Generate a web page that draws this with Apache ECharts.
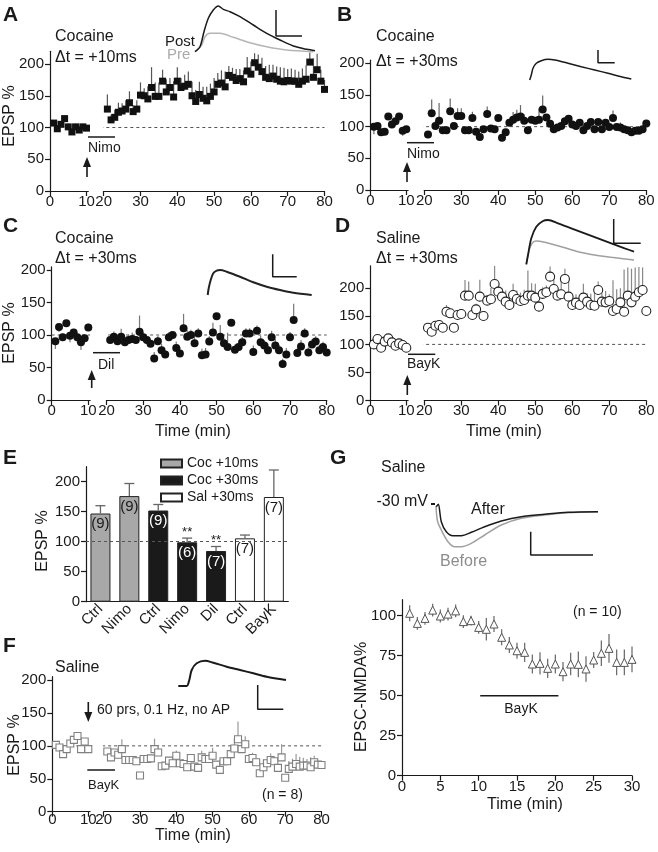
<!DOCTYPE html>
<html><head><meta charset="utf-8">
<script src="https://cdn.jsdelivr.net/npm/echarts@6/dist/echarts.min.js"></script>
<style>html,body{margin:0;padding:0;background:#fff}#c{width:658px;height:852px}</style>
</head><body><div id="c"></div>
<script>
// ---------- DATA ----------
const minutesPre = [1,2,3,4,5,6,7,8,9,10];
const minutesPost = [21,22,23,24,25,26,27,28,29,30,31,32,33,34,35,36,37,38,39,40,41,42,43,44,45,46,47,48,49,50,51,52,53,54,55,56,57,58,59,60,61,62,63,64,65,66,67,68,69,70,71,72,73,74,75,76,77,78,79,80];
const xTicksPre = [0,10];
const yTicksEPSP = [0,50,100,150,200];

// A: Cocaine, dt=+10ms, Nimo
const A_pre = [107,98,105,114,101,93,101,96,101,99];
const A_preErr = [5,6,5,5,5,6,5,6,5,5];
const A_post = [129,112,116,124,126,129,139,125,129,151,150,145,163,149,149,173,156,163,148,173,163,165,168,150,141,152,146,142,149,156,168,170,164,182,179,174,177,172,189,184,202,195,188,179,177,181,176,173,172,174,173,173,168,173,176,203,179,191,173,160];
const A_postErr = [23,8,12,15,12,14,18,10,14,20,12,20,32,22,22,18,20,15,25,22,15,18,20,22,18,20,18,22,20,22,18,20,24,15,15,18,15,18,22,20,15,20,22,18,22,18,20,22,22,18,20,18,20,20,22,15,30,25,18,15];

// B: Cocaine, dt=+30ms, Nimo
const B_pre = [100,101,91,92,116,103.5,108.5,116,93.5,96];
const B_preErr = [-12,5,4,3,5,4,5,5,-8,5];
const B_post = [87.5,121,101,109.5,94.5,94.5,124.5,101,117,117,94.5,94.5,113.5,92,83.5,96,120,97,96,113.5,82.5,91,106,111,114.5,116,109.5,94.5,111,109.5,111,127,114.5,104.5,96,98.5,101,108.5,112.5,103.5,101,106,94.5,101,107.5,96,107.5,96,106,99.5,113.5,99.5,98.5,96,94.5,91,93.5,93.5,96,105];
const B_postErr = [3,22,8,28,5,5,20,5,12,12,3,3,10,4,3,5,12,4,3,5,3,3,5,12,12,18,10,3,5,5,18,22,5,3,3,3,5,5,5,3,3,3,3,3,5,3,5,3,3,5,12,3,8,3,3,3,3,3,3,3];

// C: Cocaine, dt=+30ms, Dil
const C_pre = [90.5,112.5,96.5,118,99,104,96.5,89,95,111.5];
const C_preErr = [-12,-8,6,-5,-10,-5,-8,-12,6,6];
const C_post = [92.5,97.5,90.5,97.5,89,92.5,94,92.5,105,96.5,92.5,86.5,64,90.5,76.5,70,96.5,100,80,71.5,110.5,97.5,100,87.5,102.5,69,70,90,104,129,97.5,87.5,81.5,119,77.5,81.5,89,102.5,102.5,74,106.5,89,84,76.5,96.5,84,76.5,55.5,70,96.5,123,72.5,82.5,102.5,73,85.5,90,76.5,81.5,73];
const C_postErr = [6,8,10,12,5,8,10,5,25,8,5,5,10,8,10,5,8,6,10,10,22,10,8,12,8,10,10,8,15,5,18,8,22,5,8,10,8,8,8,10,8,10,8,10,10,10,8,8,10,8,25,8,10,8,8,8,8,8,8,5];

// D: Saline, dt=+30ms, BayK
const D_pre = [100,109.5,94,105,110.7,103.6,97.6,101.8,98.8,94];
const D_preErr = [3,4,3,3,4,3,3,3,3,3];
const D_post = [129.8,122.6,133.3,134.5,129.8,158.3,155.4,129.8,152.4,154.2,186.9,186.9,152.4,162.5,185.1,150.6,178,180.4,207.7,194,185.1,176.2,170.2,188.1,181,177.4,179.2,186.9,186.9,183.3,167.3,190,192.9,220.8,198.8,186.9,189.3,216.7,185.1,170.2,174.4,170.2,183.3,176.2,170.2,169,197,176.2,175,177.4,159.5,163.1,175,158.3,186.9,175,185.1,192.9,197,159.5];
const D_postErr = [5,5,5,5,5,12,5,8,5,8,28,25,8,10,30,8,10,20,32,12,15,20,12,20,15,15,18,45,22,25,10,12,12,18,25,12,30,18,30,10,15,12,25,15,20,35,15,15,20,12,55,35,25,75,50,60,52,45,40,8];

// E: summary bars
const E_categories = ['Ctrl','Nimo','Ctrl','Nimo','Dil','Ctrl','BayK'];
const E_groups = ['Coc +10ms','Coc +30ms','Sal +30ms'];
const E_groupOf = [0,0,1,1,1,2,2];
const E_values = [147,176,152,99,84.5,105.6,174.5];
const E_err = [13,21,10,7,7.5,5.5,45];
const E_n = [9,9,9,6,7,7,7];
const E_sig = ['','','','**','**','',''];

// F: Saline, 60 prs no AP, BayK
const F_pre = [101.5,97.5,87.5,95,103.5,109,115,95,106.5,95];
const F_preErr = [3,3,3,3,3,3,3,3,3,3];
const F_post = [91.5,82.5,90,86.5,95,78.5,78.5,78.5,76.5,55,80,80,81,95,90,69,70,77.5,73.5,85,73.5,72.5,67.5,81.5,68.5,66.5,82.5,80,80,85,71.5,63.5,76.5,76.5,87.5,96,110,95,102.5,80,81.5,75,58.5,67.5,73.5,78.5,76.5,66.5,82.5,51.5,65,68.5,72.5,68.5,70,70,67.5,75,71.5,71];
const F_postErr = [4,3,4,3,15,3,3,4,3,3,3,3,3,16,8,3,4,4,4,8,3,3,3,4,3,3,10,4,8,12,3,3,4,4,12,15,27,15,12,3,8,4,3,12,4,10,4,3,20,3,12,12,15,15,12,10,15,10,4,4];

// G: EPSC-NMDA
const G_minutes = [1,2,3,4,5,6,7,8,9,10,11,12,13,14,15,16,17,18,19,20,21,22,23,24,25,26,27,28,29,30];
const G_values = [101.5,95.2,98.3,103.5,99.8,101,103,96.3,96.9,92.7,91.5,94.8,86.5,81.7,78.1,77.1,69.8,70.2,67.1,69.8,65,69.8,69.6,66.7,72.3,76.5,79.6,70.8,70.8,72.7];
const G_err = [5,4,4,4,4,4,4,4,3,4,7,5,5,5,5,6,6,7,6,6,6,7,8,8,5,8,9,8,8,8];
const G_bayK = [10.2,20.4];
const G_yTicks = [0,25,50,75,100];

// Example traces ([time, amplitude] in inset units)
const traceA_post = [[5,3.3],[10,8.3],[14,23.3],[18.3,36.7],[23.3,45],[28.3,49],[33.3,45.7],[40,43.3],[50,38.3],[63.3,30],[76.7,21.7],[90,15],[103.3,9],[116.7,5.7],[125,4.3]];
const traceA_pre = [[5,3.3],[11.7,10],[15,18.3],[20,21.7],[30,21.7],[43.3,17.7],[60,12.3],[76.7,8.3],[96.7,5],[123.3,3.3]];
const traceB = [[4.7,5],[6.3,10],[8,16.7],[11.3,21.7],[16.3,24.3],[23,25.7],[29.7,25],[43,21.7],[56.3,18.3],[69.7,15],[83,11.7],[96.3,8.3],[106.3,6]];
const traceC = [[7.7,5],[8.7,11.7],[10.7,20],[13.3,26.7],[16.7,29.3],[20,30],[26.7,28.3],[40,23.3],[53.3,17.7],[66.7,13.3],[80,10],[93.3,7.3],[111.7,5]];
const traceD_post = [[6.3,5.7],[8,15],[11.3,31.7],[16.3,43.3],[23,49],[28,50],[38,46.7],[51.3,41.7],[64.7,36.7],[78,31.7],[91.3,26.7],[104.7,21.7],[114,18.3]];
const traceD_pre = [[6.3,5.7],[9.7,21.7],[13,27.7],[16.3,29],[24.7,27.7],[41.3,23.3],[58,18.3],[74.7,15],[91.3,12.7],[114,10]];
const traceF = [[8.3,29],[16.7,29],[19.3,35],[21.7,45],[26.7,51.7],[35,54.3],[43.3,52.3],[56.7,48.3],[70,45],[83.3,41.7],[96.7,38.3],[116,35]];
const traceG_after = [[6.3,53.3],[8.3,55.7],[11.3,38.3],[16.3,28.3],[23,24.3],[31.3,24.3],[41.3,27.7],[54.7,33.3],[71.3,39],[91.3,43.3],[114.7,45.7],[138,47.7],[168,48.3]];
const traceG_before = [[6,54],[7.5,39],[11.3,30],[18,18.3],[24.7,13.3],[31.3,13.3],[41.3,16.7],[54.7,25],[71.3,35],[91.3,41.7],[114.7,45],[138,47.3],[168,48.3]];
const holdG = [[1,56],[5,56]];
// scale bars
const scaleA = [[86,45],[86,19],[112,19]];
const scaleB = [[73,35],[73,22.3],[89.7,22.3]];
const scaleC = [[72.7,45.7],[72.7,23.3],[96.7,23.3]];
const scaleD = [[93.7,51],[93.7,26.7],[120.7,26.7]];
const scaleF = [[87.7,30],[87.7,5.7],[113.3,5.7]];
const scaleG = [[100.7,28.3],[100.7,5],[163,5]];

// ---------- BUILD ----------
const FONT = 'Liberation Sans, Arial, Helvetica, sans-serif';
const INK = '#1a1a1a';
const grids = [], xAxes = [], yAxes = [], series = [], graphics = [];

function addGrid(left, top, width, height) {
  grids.push({left, top, width, height, containLabel: false, outerBoundsMode: 'none', show: false});
  return grids.length - 1;
}
function valAxis(gi, min, max, o) {
  o = o || {};
  const ax = {
    type: 'value', gridIndex: gi, min, max, show: o.show !== false,
    axisLine: {show: true, onZero: false, lineStyle: {color: INK, width: 1.2}},
    axisTick: {show: true, inside: false, length: 5, lineStyle: {color: INK, width: 1.2}},
    axisLabel: {show: true, color: INK, fontSize: 15, fontFamily: FONT, margin: o.margin == null ? 4 : o.margin},
    splitLine: {show: false}
  };
  if (o.interval) ax.interval = o.interval;
  if (o.ticks) { ax.axisTick.customValues = o.ticks; ax.axisLabel.customValues = o.ticks; }
  return ax;
}
const zip = (xs, ys) => xs.map((x, i) => [x, ys[i]]);
const zip3 = (xs, ys, es) => xs.map((x, i) => [x, ys[i], es[i]]);

function errUp(color) {
  return function (params, api) {
    const t = api.value(0), v = api.value(1), e = api.value(2);
    const a = api.coord([t, v]), b = api.coord([t, v + e]);
    return {type: 'line', shape: {x1: a[0], y1: a[1], x2: b[0], y2: b[1]}, style: {stroke: color, lineWidth: 1.2}};
  };
}
function errBoth(color) {
  return function (params, api) {
    const t = api.value(0), v = api.value(1), e = api.value(2);
    const a = api.coord([t, v - e]), b = api.coord([t, v + e]);
    return {type: 'line', shape: {x1: a[0], y1: a[1], x2: b[0], y2: b[1]}, style: {stroke: color, lineWidth: 1.2}};
  };
}

function timePanel(p) {
  const lw = 10.5 * p.ppmL, rw = 60 * p.ppm;
  const top = p.y0 - p.ymax * p.ppu, h = p.y0 - top;
  const gL = addGrid(p.xL, top, lw, h), gR = addGrid(p.xR, top, rw, h);
  const xm = p.xMargin == null ? 3 : p.xMargin;
  xAxes.push(valAxis(gL, 0, 10.5, {ticks: xTicksPre, margin: xm})); const xl = xAxes.length - 1;
  yAxes.push(valAxis(gL, 0, p.ymax, {ticks: yTicksEPSP, margin: 6})); const yl = yAxes.length - 1;
  xAxes.push(valAxis(gR, 20, 80, {interval: 10, margin: xm})); const xr = xAxes.length - 1;
  yAxes.push(valAxis(gR, 0, p.ymax, {show: false})); const yr = yAxes.length - 1;
  const dash = {type: [3, 3], color: '#555', width: 1};
  const gapMin = (p.xR - (p.xL + lw)) / p.ppm;
  series.push({type: 'line', xAxisIndex: xr, yAxisIndex: yr, data: [[20 - gapMin, 100], [80, 100]], clip: false, symbol: 'none', lineStyle: dash, silent: true, z: 1});
  if (p.dashFromZero) series.push({type: 'line', xAxisIndex: xl, yAxisIndex: yl, data: [[0, 100], [10.5, 100]], clip: false, symbol: 'none', lineStyle: dash, silent: true, z: 1});
  [[xl, yl, p.pre, p.preErr, minutesPre], [xr, yr, p.post, p.postErr, minutesPost]].forEach(([xi, yi, vals, errs, ts]) => {
    series.push({type: 'custom', coordinateSystem: 'cartesian2d', xAxisIndex: xi, yAxisIndex: yi, data: zip3(ts, vals, errs), encode: {x: 0, y: 1}, renderItem: errUp(p.errColor), silent: true, z: 2});
    series.push({type: 'scatter', xAxisIndex: xi, yAxisIndex: yi, data: zip(ts, vals), symbol: p.symbol, symbolSize: p.size, itemStyle: Object.assign({opacity: 1}, p.itemStyle), silent: true, z: 3});
  });
}

function inset(left, top, w, h, lines) {
  const g = addGrid(left, top, w, h);
  xAxes.push({type: 'value', gridIndex: g, min: 0, max: w, show: false});
  yAxes.push({type: 'value', gridIndex: g, min: 0, max: h, show: false});
  const xi = xAxes.length - 1, yi = yAxes.length - 1;
  lines.forEach(l => series.push({type: 'line', xAxisIndex: xi, yAxisIndex: yi, data: l.data, symbol: 'none', smooth: l.smooth ? 0.3 : false, clip: false, silent: true, lineStyle: {color: l.color || INK, width: l.width || 1.5}, z: 4}));
}

// Panels A-D, F
timePanel({xL: 50, xR: 103.7, ppmL: 3.65, ppm: 3.68, y0: 191, ppu: 0.635, ymax: 220, pre: A_pre, preErr: A_preErr, post: A_post, postErr: A_postErr,
  symbol: 'rect', size: 7, itemStyle: {color: '#111'}, errColor: '#555'});
timePanel({xL: 370.3, xR: 424.3, ppmL: 3.6, ppm: 3.7, y0: 190, ppu: 0.6335, ymax: 205, pre: B_pre, preErr: B_preErr, post: B_post, postErr: B_postErr,
  symbol: 'circle', size: 8, itemStyle: {color: '#111'}, errColor: '#666'});
timePanel({xL: 51.7, xR: 106.5, ppmL: 3.66, ppm: 3.67, y0: 400, ppu: 0.65, ymax: 205, pre: C_pre, preErr: C_preErr, post: C_post, postErr: C_postErr, dashFromZero: true,
  symbol: 'circle', size: 8, itemStyle: {color: '#111'}, errColor: '#777'});
timePanel({xL: 370.3, xR: 424.3, ppmL: 3.6, ppm: 3.7, y0: 400.5, ppu: 0.561, ymax: 240, pre: D_pre, preErr: D_preErr, post: D_post, postErr: D_postErr,
  symbol: 'circle', size: 9, itemStyle: {color: '#fff', borderColor: '#222', borderWidth: 1.1}, errColor: '#888'});
timePanel({xL: 52.3, xR: 103.7, ppmL: 3.6, ppm: 3.63, y0: 811.7, ppu: 0.6585, ymax: 205, pre: F_pre, preErr: F_preErr, post: F_post, postErr: F_postErr, dashFromZero: true, xMargin: 1,
  symbol: 'rect', size: 7, itemStyle: {color: '#fff', borderColor: '#808080', borderWidth: 1.1}, errColor: '#999'});

// Insets
inset(190, 5, 130, 50, [{data: traceA_pre, color: '#b5b5b5', smooth: true}, {data: traceA_post, color: INK, smooth: true}, {data: scaleA, width: 1.5}]);
inset(525, 45, 120, 40, [{data: traceB, color: INK, smooth: true}, {data: scaleB}]);
inset(200, 250, 120, 50, [{data: traceC, color: '#222', smooth: true, width: 2}, {data: scaleC}]);
inset(520, 215, 125, 55, [{data: traceD_pre, color: '#a0a0a0', smooth: true}, {data: traceD_post, color: INK, smooth: true, width: 1.8}, {data: scaleD}]);
inset(170, 655, 120, 60, [{data: traceF, color: INK, smooth: true, width: 2}, {data: scaleF}]);
inset(430, 495, 175, 65, [{data: holdG, color: INK, width: 2}, {data: traceG_before, color: '#a0a0a0', smooth: true}, {data: traceG_after, color: INK, smooth: true}, {data: scaleG}]);

// Panel E
const gE = addGrid(86, 466.7, 202.3, 135);
xAxes.push({type: 'category', gridIndex: gE, data: E_categories,
  axisLine: {show: true, onZero: false, lineStyle: {color: INK, width: 1.2}}, axisTick: {show: false},
  axisLabel: {rotate: 45, interval: 0, color: INK, fontSize: 15, fontFamily: FONT, margin: 5}, splitLine: {show: false}});
const xE = xAxes.length - 1;
yAxes.push(valAxis(gE, 0, 225, {ticks: yTicksEPSP, margin: 6}));
const yE = yAxes.length - 1;
const E_colors = ['#a8a8a8', '#1a1a1a', '#ffffff'];
E_groups.forEach((name, gi) => {
  const s = {type: 'bar', name, xAxisIndex: xE, yAxisIndex: yE, barWidth: 20, barGap: '-100%', silent: true,
    data: E_values.map((v, j) => E_groupOf[j] === gi ? v : '-'),
    itemStyle: {color: E_colors[gi], borderColor: '#222', borderWidth: 1, opacity: 1},
    label: {show: true, position: 'insideTop', distance: 3, fontSize: 15, fontFamily: FONT, color: gi === 1 ? '#fff' : INK,
      formatter: p => '(' + E_n[p.dataIndex] + ')'}, z: 2};
  if (gi === 0) s.markLine = {silent: true, symbol: 'none', label: {show: false}, lineStyle: {type: [3, 3], color: '#555', width: 1}, data: [{yAxis: 100}], z: 5};
  series.push(s);
});
series.push({type: 'custom', coordinateSystem: 'cartesian2d', xAxisIndex: xE, yAxisIndex: yE, silent: true, z: 3,
  data: E_values.map((v, j) => [j, v, E_err[j]]), encode: {x: 0, y: 1},
  renderItem: function (params, api) {
    const j = params.dataIndex, v = api.value(1), e = api.value(2);
    const a = api.coord([j, v]), b = api.coord([j, v + e]);
    const ch = [
      {type: 'line', shape: {x1: a[0], y1: a[1], x2: b[0], y2: b[1]}, style: {stroke: '#666', lineWidth: 1.3}},
      {type: 'line', shape: {x1: b[0] - 5, y1: b[1], x2: b[0] + 5, y2: b[1]}, style: {stroke: '#666', lineWidth: 1.3}}
    ];
    if (E_sig[j]) ch.push({type: 'text', x: b[0], y: b[1] - 6, style: {text: E_sig[j], fill: INK, fontSize: 13, fontFamily: FONT, align: 'center', verticalAlign: 'middle'}});
    return {type: 'group', children: ch};
  }});

// Panel G bottom
const gG = addGrid(402, 599.7, 230, 176);
xAxes.push(valAxis(gG, 0, 30, {interval: 5, margin: 4})); const xG = xAxes.length - 1;
yAxes.push(valAxis(gG, 0, 110, {ticks: G_yTicks, margin: 6})); const yG = yAxes.length - 1;
series.push({type: 'custom', coordinateSystem: 'cartesian2d', xAxisIndex: xG, yAxisIndex: yG, data: zip3(G_minutes, G_values, G_err), encode: {x: 0, y: 1}, renderItem: errBoth('#666'), silent: true, z: 2});
series.push({type: 'scatter', xAxisIndex: xG, yAxisIndex: yG, data: zip(G_minutes, G_values), symbol: 'triangle', symbolSize: 8, itemStyle: {color: '#fff', borderColor: '#555', borderWidth: 1, opacity: 1}, silent: true, z: 3});
series.push({type: 'line', xAxisIndex: xG, yAxisIndex: yG, data: [[G_bayK[0], 50], [G_bayK[1], 50]], symbol: 'none', lineStyle: {color: INK, width: 1.5}, silent: true});

// ---------- ANNOTATIONS ----------
function T(text, x, y, o) {
  o = o || {};
  return {type: 'text', x, y, rotation: o.rot || 0, silent: true, z: 10,
    style: {text, fill: o.fill || INK, fontSize: o.size || 16, fontFamily: FONT, fontWeight: o.bold ? 'bold' : 'normal', align: o.align || 'left', verticalAlign: 'middle'}};
}
function Ln(x1, y1, x2, y2, w) { return {type: 'line', silent: true, z: 10, shape: {x1, y1, x2, y2}, style: {stroke: INK, lineWidth: w || 1.5}}; }
function arrow(x, yTail, yHead) {
  const d = yHead < yTail ? 1 : -1;
  return [Ln(x, yTail, x, yHead + d * 7, 1.6),
    {type: 'polygon', silent: true, z: 10, shape: {points: [[x, yHead], [x - 4, yHead + d * 10], [x + 4, yHead + d * 10]]}, style: {fill: INK}}];
}
const P = {bold: true, size: 21};
graphics.push(
  T('A', 3, 15, P), T('B', 337, 15, P), T('C', 3, 226, P), T('D', 335, 226, P), T('E', 3, 458, P), T('F', 3, 646, P), T('G', 330, 458, P),
  T('Cocaine', 55, 37), T('\u0394t = +10ms', 55, 58), T('Post', 195, 42, {align: 'right', size: 15}), T('Pre', 167, 55, {fill: '#aaaaaa', size: 15}),
  T('Nimo', 88, 148, {size: 14}), T('EPSP %', 10, 116, {rot: Math.PI / 2, align: 'center'}),
  T('Cocaine', 376, 37), T('\u0394t = +30ms', 376, 62), T('Nimo', 407, 154, {size: 14}),
  T('Cocaine', 55, 239), T('\u0394t = +30ms', 55, 259), T('Dil', 98, 365, {size: 14}), T('EPSP %', 10, 333, {rot: Math.PI / 2, align: 'center'}),
  T('Saline', 376, 239), T('\u0394t = +30ms', 376, 259), T('BayK', 407, 364, {size: 14}),
  T('Time (min)', 193, 432, {align: 'center'}), T('Time (min)', 504, 432, {align: 'center'}),
  T('EPSP %', 43, 541, {rot: Math.PI / 2, align: 'center'}),
  T('Saline', 55, 668), T('60 prs, 0.1 Hz, no AP', 97, 710, {size: 14}), T('BayK', 88, 785, {size: 13}), T('(n = 8)', 262, 795, {size: 14}),
  T('EPSP %', 15, 745, {rot: Math.PI / 2, align: 'center'}), T('Time (min)', 193, 836, {align: 'center'}),
  T('Saline', 381, 468), T('-30 mV', 428, 502, {align: 'right'}), T('After', 471, 510), T('Before', 440, 562, {fill: '#8c8c8c'}),
  T('(n = 10)', 573, 612, {size: 14}), T('BayK', 521, 709, {size: 14, align: 'center'}),
  T('EPSC-NMDA%', 362, 697, {rot: Math.PI / 2, align: 'center'}), T('Time (min)', 525, 805, {align: 'center'}),
  Ln(88, 137, 115, 137), Ln(407, 142.7, 434, 142.7), Ln(93, 352.7, 120, 352.7), Ln(408, 354.3, 435.3, 354.3), Ln(87.3, 770, 115, 770),
  ...arrow(87, 177, 157), ...arrow(407, 182, 162), ...arrow(91.7, 388, 370), ...arrow(407.3, 395, 375), ...arrow(88.3, 702, 722)
);

const chart = echarts.init(document.getElementById('c'), null, {renderer: 'canvas'});
chart.setOption({
  animation: false,
  backgroundColor: '#fff',
  textStyle: {fontFamily: FONT},
  grid: grids, xAxis: xAxes, yAxis: yAxes, series,
  legend: {data: E_groups, orient: 'vertical', left: 155, top: 451, itemWidth: 21, itemHeight: 8, itemGap: 2, icon: 'rect', selectedMode: false,
    textStyle: {fontSize: 14, fontFamily: FONT, color: INK, lineHeight: 15}},
  graphic: {elements: graphics}
});
</script></body></html>
